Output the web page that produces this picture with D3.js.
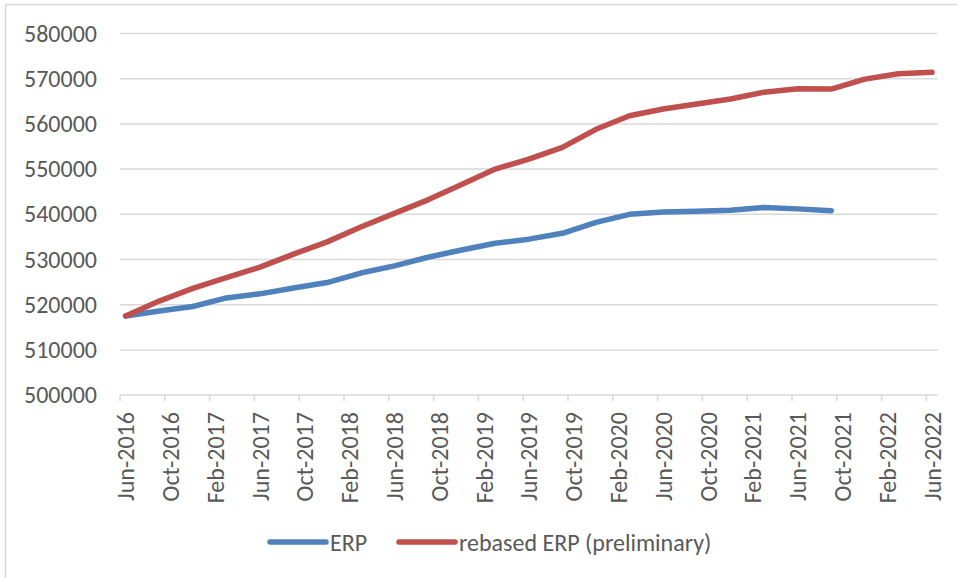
<!DOCTYPE html>
<html>
<head>
<meta charset="utf-8">
<script src="https://cdn.jsdelivr.net/npm/d3@7"></script>
<style>
  body { margin: 0; background: #fff; }
  text { font-family: Calibri, Carlito, "Liberation Sans", sans-serif; fill: #595959; }
</style>
</head>
<body>
<script>
// quarterly points
var quarters = ["Jun-2016","Sep-2016","Dec-2016","Mar-2017","Jun-2017","Sep-2017","Dec-2017","Mar-2018",
  "Jun-2018","Sep-2018","Dec-2018","Mar-2019","Jun-2019","Sep-2019","Dec-2019","Mar-2020","Jun-2020",
  "Sep-2020","Dec-2020","Mar-2021","Jun-2021","Sep-2021","Dec-2021","Mar-2022","Jun-2022"];

var erp = [517500, 518600, 519600, 521500, 522400, 523700, 524900, 527000, 528600, 530500, 532100,
  533600, 534500, 535800, 538200, 540000, 540500, 540700, 540900, 541500, 541200, 540800];

var rebased = [517500, 520800, 523600, 526000, 528300, 531200, 533900, 537200, 540200, 543200, 546600,
  550000, 552200, 554800, 558800, 561800, 563300, 564400, 565500, 567000, 567800, 567700, 569900,
  571100, 571400];

var tickLabels = ["Jun-2016","Oct-2016","Feb-2017","Jun-2017","Oct-2017","Feb-2018","Jun-2018","Oct-2018",
  "Feb-2019","Jun-2019","Oct-2019","Feb-2020","Jun-2020","Oct-2020","Feb-2021","Jun-2021","Oct-2021",
  "Feb-2022","Jun-2022"];

var yTicks = [500000, 510000, 520000, 530000, 540000, 550000, 560000, 570000, 580000];

var seriesNames = ["ERP", "rebased ERP (preliminary)"];
var colors = ["#4F81BD", "#C0504D"];

var width = 957, height = 578;
var parseM = d3.timeParse("%b-%Y");
function monthIdx(s) {
  var d = parseM(s);
  return (d.getFullYear() - 2016) * 12 + d.getMonth() - 5;
}

var svg = d3.select("body").append("svg")
  .attr("width", width)
  .attr("height", height);

// chart area border
svg.append("rect")
  .attr("x", 5.5).attr("y", 4.5)
  .attr("width", width + 10).attr("height", height + 10)
  .attr("fill", "none")
  .attr("stroke", "#D9D9D9")
  .attr("stroke-width", 1.5);

var x = d3.scaleLinear().domain([-0.5, 72.5]).range([120, 937.6]);
var y = d3.scaleLinear().domain([500000, 580000]).range([395.1, 33.5]);

// gridlines
svg.append("g")
  .selectAll("line")
  .data(yTicks.slice(1))
  .enter().append("line")
  .attr("x1", x(-0.5)).attr("x2", x(72.5))
  .attr("y1", function(d) { return y(d); })
  .attr("y2", function(d) { return y(d); })
  .attr("stroke", "#D9D9D9")
  .attr("stroke-width", 1.5);

// y axis labels
var yAx = svg.append("g")
  .attr("transform", "translate(" + x(-0.5) + ",0)")
  .call(d3.axisLeft(y).tickValues(yTicks).tickSize(0).tickPadding(23).tickFormat(d3.format("d")));
yAx.select(".domain").remove();
yAx.selectAll("text")
  .attr("font-size", "24px")
  .attr("fill", "#595959")
  .attr("font-family", null);

// x axis
var xAxis = svg.append("g").attr("transform", "translate(0," + y(500000) + ")");
xAxis.append("line")
  .attr("x1", x(-0.5)).attr("x2", x(72.5))
  .attr("stroke", "#D9D9D9").attr("stroke-width", 1.5);
xAxis.selectAll(".tk")
  .data(tickLabels)
  .enter().append("line")
  .attr("class", "tk")
  .attr("x1", function(d) { return x(monthIdx(d) - 0.5); })
  .attr("x2", function(d) { return x(monthIdx(d) - 0.5); })
  .attr("y1", 0).attr("y2", 6)
  .attr("stroke", "#D9D9D9").attr("stroke-width", 1.5);
xAxis.selectAll("text")
  .data(tickLabels)
  .enter().append("text")
  .attr("transform", function(d) { return "translate(" + (x(monthIdx(d)) + 8.5) + ",17) rotate(-90)"; })
  .attr("text-anchor", "end")
  .attr("font-size", "24px")
  .text(function(d) { return d; });

// lines
var line = d3.line()
  .x(function(d, i) { return x(monthIdx(quarters[i])); })
  .y(function(d) { return y(d); });

[erp, rebased].forEach(function(vals, i) {
  svg.append("path")
    .datum(vals)
    .attr("d", line)
    .attr("fill", "none")
    .attr("stroke", colors[i])
    .attr("stroke-width", 5.5)
    .attr("stroke-linejoin", "round")
    .attr("stroke-linecap", "round");
});

// legend
var legendX = [270, 399];
var leg = svg.append("g").attr("transform", "translate(0,542)");
seriesNames.forEach(function(name, i) {
  leg.append("line")
    .attr("x1", legendX[i]).attr("x2", legendX[i] + 56)
    .attr("stroke", colors[i]).attr("stroke-width", 5.5)
    .attr("stroke-linecap", "round");
  leg.append("text")
    .attr("x", legendX[i] + 60)
    .attr("y", 8.5)
    .attr("font-size", "24px")
    .text(name);
});
</script>
</body>
</html>
